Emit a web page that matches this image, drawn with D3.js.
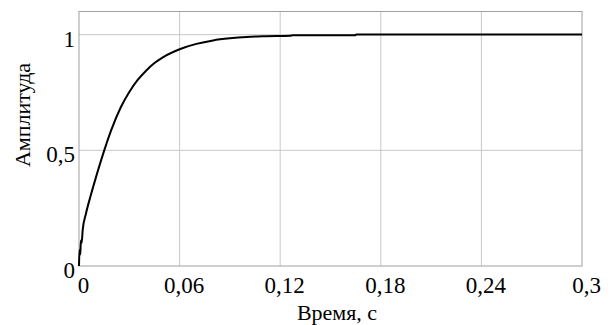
<!DOCTYPE html>
<html lang="ru">
<head>
<meta charset="UTF-8">
<title>Переходная характеристика</title>
<script src="https://d3js.org/d3.v7.min.js"></script>
<style>
  body { margin: 0; background: #fff; }
  text { font-family: "Liberation Serif", "Times New Roman", serif; fill: #000; }
</style>
</head>
<body>
<svg id="main" width="610" height="325"></svg>
<script>
// data
const timeS = [0, 0.0003, 0.0008, 0.0011, 0.0016, 0.0022, 0.0042, 0.0072, 0.0101,
  0.0141, 0.0191, 0.025, 0.03, 0.035, 0.04, 0.045, 0.05, 0.06, 0.07, 0.08, 0.09, 0.1,
  0.11, 0.126, 0.1275, 0.1645, 0.1655, 0.3];
const amplitude = [0, 0.07, 0.05, 0.11, 0.1, 0.156, 0.228, 0.31, 0.383,
  0.478, 0.585, 0.687, 0.752, 0.804, 0.844, 0.877, 0.902, 0.937, 0.96, 0.975, 0.984, 0.99,
  0.993, 0.995, 0.997, 0.997, 1.001, 1.001];
const xTicks = [0, 0.06, 0.12, 0.18, 0.24, 0.3];
const yTicks = [0, 0.5, 1];

let svg = d3.select('svg#main');
let plot = {left: 79, right: 582, top: 11.5, bottom: 266};

let xScale = d3.scaleLinear().domain([0, 0.3]).range([plot.left, plot.right]);
let yScale = d3.scaleLinear().domain([0, 1.1]).range([plot.bottom, plot.top]);
let fmt = d => String(d).replace('.', ',');

// grid
svg.append('g').selectAll('line')
  .data(xTicks.slice(1, -1))
  .join('line')
  .attr('x1', d => xScale(d)).attr('x2', d => xScale(d))
  .attr('y1', plot.top).attr('y2', plot.bottom)
  .attr('stroke', '#c8c8c8').attr('stroke-width', 1);
svg.append('g').selectAll('line')
  .data(yTicks.slice(1))
  .join('line')
  .attr('x1', plot.left).attr('x2', plot.right)
  .attr('y1', d => yScale(d)).attr('y2', d => yScale(d))
  .attr('stroke', '#c8c8c8').attr('stroke-width', 1);

// frame
svg.append('rect')
  .attr('x', plot.left).attr('y', plot.top)
  .attr('width', plot.right - plot.left).attr('height', plot.bottom - plot.top)
  .attr('fill', 'none').attr('stroke', '#a0a0a0').attr('stroke-width', 1);

// axes (labels only, lines drawn by the frame)
let xAxis = svg.append('g')
  .attr('transform', 'translate(4,' + plot.bottom + ')')
  .call(d3.axisBottom(xScale).tickValues(xTicks).tickFormat(fmt).tickSize(0).tickPadding(11));
let yAxis = svg.append('g')
  .attr('transform', 'translate(' + plot.left + ',4)')
  .call(d3.axisLeft(yScale).tickValues(yTicks).tickFormat(fmt).tickSize(0).tickPadding(4));
svg.selectAll('.domain').remove();
svg.selectAll('.tick text')
  .style('font-family', '"Liberation Serif", serif')
  .style('font-size', '23px').attr('fill', '#000');

// curve
let line = d3.line()
  .x((d, i) => xScale(timeS[i]))
  .y(d => yScale(d))
  .curve(d3.curveMonotoneX);
svg.append('path')
  .datum(amplitude)
  .attr('d', line)
  .attr('fill', 'none')
  .attr('stroke', '#000')
  .attr('stroke-width', 2);

// titles
svg.append('text')
  .attr('x', 337).attr('y', 320)
  .attr('text-anchor', 'middle')
  .style('font-size', '22px')
  .text('Время, с');
svg.append('text')
  .attr('transform', 'translate(30,115) rotate(-90)')
  .attr('text-anchor', 'middle')
  .style('font-size', '22px')
  .text('Амплитуда');
</script>
</body>
</html>
